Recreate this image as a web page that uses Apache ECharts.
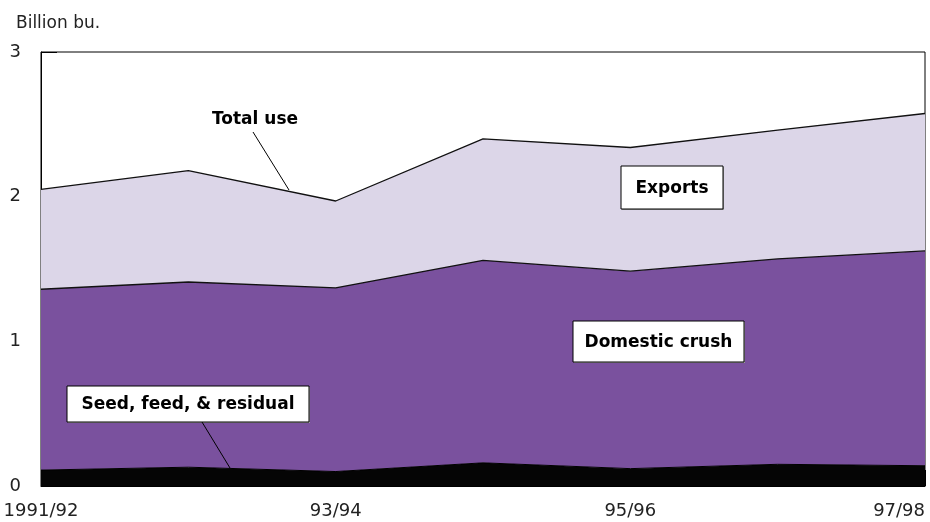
<!DOCTYPE html>
<html>
<head>
<meta charset="utf-8">
<script src="https://cdn.jsdelivr.net/npm/echarts@6/dist/echarts.min.js"></script>
<style>
html,body{margin:0;padding:0;background:#fff;}
#c{width:930px;height:522px;}
</style>
</head>
<body>
<div id="c"></div>
<script>
const categories = ["1991/92","92/93","93/94","94/95","95/96","96/97","97/98"];
const seedFeedResidual = [0.11, 0.13, 0.10, 0.16, 0.12, 0.15, 0.14];
const domesticCrush = [1.25, 1.28, 1.27, 1.40, 1.365, 1.42, 1.485];
const exportsVals = [0.69, 0.77, 0.60, 0.84, 0.855, 0.89, 0.95];
const yTicks = [0, 1, 2, 3];

const FONT = "DejaVu Sans";
const chart = echarts.init(document.getElementById('c'));

function box(x, y, w, h, text) {
  return {
    type: 'group',
    children: [
      {type:'rect', shape:{x:x+1, y:y+1, width:w, height:h}, style:{fill:'#999'}, z:10},
      {type:'rect', shape:{x:x, y:y, width:w, height:h}, style:{fill:'#fff', stroke:'#000', lineWidth:1}, z:11},
      {type:'text', x:x + w/2, y:y + h/2 + 1, style:{text:text, fill:'#000', font:'bold 17px ' + FONT, align:'center', verticalAlign:'middle'}, z:12}
    ]
  };
}

chart.setOption({
  animation: false,
  grid: {left: 41, right: 5, top: 52, bottom: 36, containLabel: false, outerBoundsMode: 'none',
    show: true, borderColor: '#000', borderWidth: 1, backgroundColor: 'transparent'},
  title: {
    text: 'Billion bu.', left: 11, top: 10,
    textStyle: {fontFamily: FONT, fontSize: 17, fontWeight: 'normal', color: '#222'}
  },
  xAxis: {
    type: 'category', data: categories, boundaryGap: false,
    axisLine: {show: true, lineStyle: {color: '#000', width: 1}},
    axisTick: {show: true, inside: true, length: 16, interval: 1, lineStyle: {color: '#000'}},
    axisLabel: {interval: 1, fontFamily: FONT, fontSize: 18, color: '#222', margin: 16,
      alignMinLabel: 'center', alignMaxLabel: 'right'},
    splitLine: {show: false}
  },
  yAxis: {
    type: 'value', min: 0, max: 3, interval: 1,
    axisLine: {show: true, lineStyle: {color: '#000', width: 1}},
    axisTick: {show: true, inside: true, length: 16, lineStyle: {color: '#000'}},
    axisLabel: {fontFamily: FONT, fontSize: 18, color: '#222', margin: 20,
      formatter: v => yTicks.includes(v) ? String(v) : ''},
    splitLine: {show: false}
  },
  series: [
    {name: 'Seed, feed, & residual', type: 'line', stack: 'u', data: seedFeedResidual, symbol: 'none',
      lineStyle: {color: '#000', width: 1}, areaStyle: {color: '#050505', opacity: 1}, z: 2},
    {name: 'Domestic crush', type: 'line', stack: 'u', data: domesticCrush, symbol: 'none',
      lineStyle: {color: '#111', width: 1.3}, areaStyle: {color: '#7A519E', opacity: 1}, z: 2},
    {name: 'Exports', type: 'line', stack: 'u', data: exportsVals, symbol: 'none',
      lineStyle: {color: '#111', width: 1.3}, areaStyle: {color: '#DCD6E8', opacity: 1}, z: 2}
  ],
  graphic: [
    {type:'text', x:255, y:120, style:{text:'Total use', fill:'#000', font:'bold 17px ' + FONT, align:'center', verticalAlign:'middle'}, z:12},
    {type:'line', shape:{x1:253, y1:132, x2:289, y2:190}, style:{stroke:'#000', lineWidth:1}, z:12},
    box(621, 166, 102, 43, 'Exports'),
    box(573, 321, 171, 41, 'Domestic crush'),
    box(67, 386, 242, 36, 'Seed, feed, & residual'),
    {type:'line', shape:{x1:202, y1:422, x2:230, y2:468}, style:{stroke:'#000', lineWidth:1}, z:12}
  ]
});
</script>
</body>
</html>
